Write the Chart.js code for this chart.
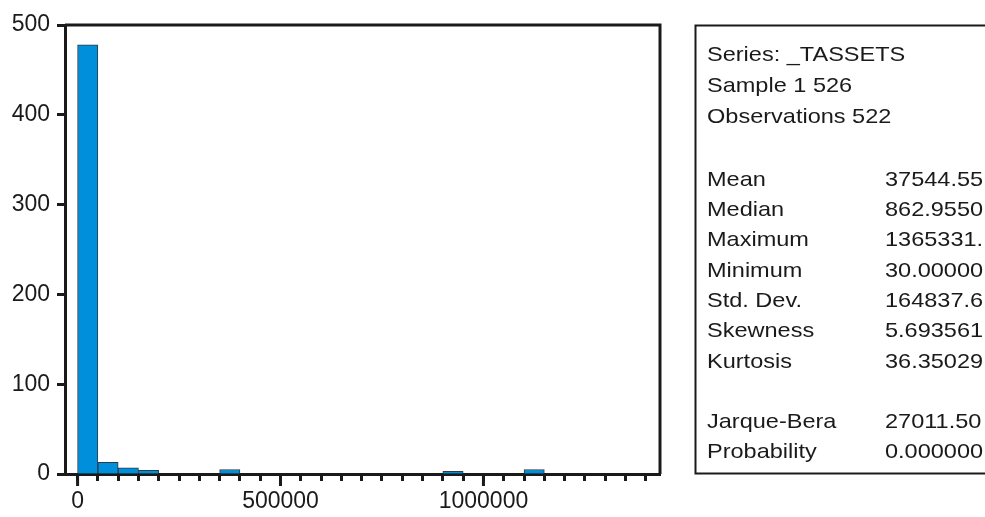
<!DOCTYPE html>
<html>
<head>
<meta charset="utf-8">
<script src="https://cdn.jsdelivr.net/npm/chart.js@4.4.1/dist/chart.umd.min.js"></script>
<style>
  body { margin: 0; background: #fff; }
  canvas { display: block; }
</style>
</head>
<body>
<canvas id="histChart" width="985" height="517"></canvas>
<script>
// bins of the histogram (lower edge of each bin, width 50000)
const binStarts = [0, 50000, 100000, 150000, 200000, 250000, 300000, 350000, 400000, 450000,
    500000, 550000, 600000, 650000, 700000, 750000, 800000, 850000, 900000, 950000,
    1000000, 1050000, 1100000, 1150000, 1200000, 1250000, 1300000, 1350000];
const counts = [478, 13, 7, 4, 0, 0, 0, 5, 0, 0,
    0, 0, 0, 0, 0, 0, 0, 0, 3, 0,
    0, 0, 5, 0, 0, 0, 0, 0];
const binWidth = 50000;

const yTicks = [0, 100, 200, 300, 400, 500];
const xTicks = binStarts.concat([1400000]);
const xLabelled = [0, 500000, 1000000];

// statistics panel
const headerLines = ['Series: _TASSETS', 'Sample 1 526', 'Observations 522'];
const statNames = ['Mean', 'Median', 'Maximum', 'Minimum', 'Std. Dev.', 'Skewness', 'Kurtosis'];
const statValues = ['37544.55', '862.9550', '1365331.', '30.00000', '164837.6', '5.693561', '36.35029'];
const testNames = ['Jarque-Bera', 'Probability'];
const testValues = ['27011.50', '0.000000'];

const FONT = '"Liberation Sans", Arial, Helvetica, sans-serif';
const INK = '#1a1a1a';

// text in the panel is a bit wider than normal
function wideText(c, t, x, y) {
    c.save();
    c.translate(x, y);
    c.scale(1.12, 1);
    c.fillText(t, 0, 0);
    c.restore();
}

// frame around the plot + long ticks + the stats box
const extras = {
    id: 'extras',
    afterDraw(chart) {
        const c = chart.ctx;
        const a = chart.chartArea;
        const xs = chart.scales.x;
        c.save();
        c.strokeStyle = INK;
        c.lineWidth = 3;
        c.beginPath();
        c.moveTo(a.left, a.top);
        c.lineTo(a.right, a.top);
        c.lineTo(a.right, a.bottom);
        c.stroke();

        // longer tick marks for labelled values
        xLabelled.forEach(v => {
            const px = xs.getPixelForValue(v);
            c.beginPath();
            c.moveTo(px, a.bottom);
            c.lineTo(px, a.bottom + 12);
            c.stroke();
        });

        // stats box
        c.lineWidth = 2;
        c.strokeRect(695.5, 25.5, 400, 448);

        c.fillStyle = INK;
        c.font = '21px ' + FONT;
        c.textBaseline = 'middle';
        c.textAlign = 'left';
        const lx = 707, vx = 885, pitch = 30.3;
        headerLines.forEach((t, i) => wideText(c, t, lx, 55 + i * 31));
        statNames.forEach((t, i) => {
            wideText(c, t, lx, 180 + i * pitch);
            wideText(c, statValues[i], vx, 180 + i * pitch);
        });
        testNames.forEach((t, i) => {
            wideText(c, t, lx, 422 + i * pitch);
            wideText(c, testValues[i], vx, 422 + i * pitch);
        });
        c.restore();
    }
};

const ctx = document.getElementById('histChart').getContext('2d');
const histChart = new Chart(ctx, {
    type: 'bar',
    data: {
        datasets: [{
            data: binStarts.map((b, i) => ({ x: b + binWidth / 2, y: counts[i] > 0 ? counts[i] : null })),
            backgroundColor: '#0090db',
            borderColor: '#2b3a44',
            borderWidth: 1,
            borderSkipped: 'bottom',
            barPercentage: 1,
            categoryPercentage: 1
        }]
    },
    options: {
        responsive: false,
        animation: false,
        layout: { padding: { left: 0, right: 325, top: 25, bottom: 0 } },
        plugins: {
            legend: { display: false },
            tooltip: { enabled: false }
        },
        scales: {
            x: {
                type: 'linear',
                offset: false,
                min: -31000,
                max: 1435000,
                afterFit: s => { s.height = 43; },
                afterBuildTicks: s => { s.ticks = xTicks.map(v => ({ value: v })); },
                grid: {
                    offset: false,
                    drawOnChartArea: false,
                    tickLength: 7,
                    tickWidth: 3,
                    tickColor: INK
                },
                border: { color: INK, width: 3 },
                ticks: {
                    autoSkip: false,
                    maxRotation: 0,
                    padding: 7,
                    color: INK,
                    font: { family: FONT, size: 23 },
                    callback: v => xLabelled.includes(v) ? String(v) : ''
                }
            },
            y: {
                min: 0,
                max: 500,
                afterFit: s => { s.width = 65; },
                afterBuildTicks: s => { s.ticks = yTicks.map(v => ({ value: v })); },
                grid: {
                    drawOnChartArea: false,
                    tickLength: 8,
                    tickWidth: 3,
                    tickColor: INK
                },
                border: { color: INK, width: 3 },
                ticks: {
                    padding: 7,
                    color: INK,
                    font: { family: FONT, size: 23 }
                }
            }
        }
    },
    plugins: [extras]
});
</script>
</body>
</html>
